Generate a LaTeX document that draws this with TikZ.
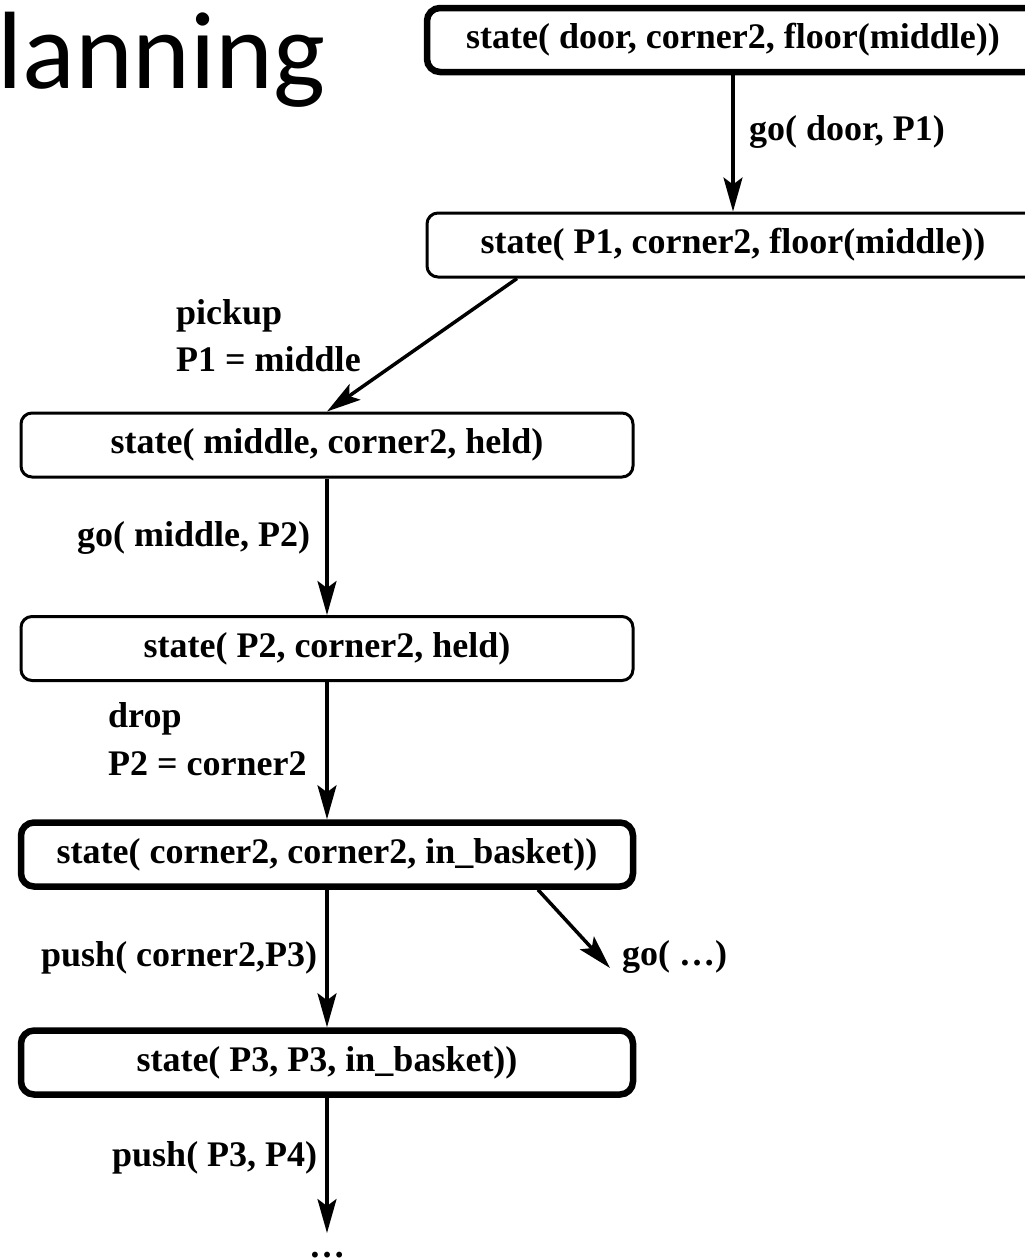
\documentclass[tikz,border=0pt]{standalone}
\usepackage{fontspec}
\setmainfont{Liberation Serif}
\newfontfamily\titlefont{Carlito}
\usetikzlibrary{arrows.meta}

\begin{document}
\begin{tikzpicture}[x=1pt,y=-1pt,
  every node/.style={font=\fontsize{36}{42}\selectfont\bfseries, inner sep=0pt},
  statebox/.style={draw, rounded corners=11pt, line width=3pt,
                   minimum width=612pt, minimum height=64pt},
  keybox/.style={statebox, line width=6.5pt, rounded corners=13pt},
  flow/.style={line width=3.5pt, -{Stealth[length=34pt,width=19pt,inset=7pt]}},
  lbl/.style={anchor=base west}
]
\useasboundingbox (0,0) rectangle (1025,1259);

% slide title
\node[anchor=base west, font=\titlefont\fontsize{110}{120}\selectfont] (title) at (-3,88) {lanning};

% search states
\node[keybox]   (b1) at (733,40)    {state( door, corner2, floor(middle))};
\node[statebox] (b2) at (733,245)   {state( P1, corner2, floor(middle))};
\node[statebox] (b3) at (327,445)   {state( middle, corner2, held)};
\node[statebox] (b4) at (327,648.5) {state( P2, corner2, held)};
\node[keybox]   (b5) at (327,854.5) {state( corner2, corner2, in\_basket))};
\node[keybox]   (b6) at (327,1062.5){state( P3, P3, in\_basket))};

% loose ends of the tree
\coordinate (goend) at (610,968);
\coordinate (cont) at (327,1233);

% transitions
\draw[flow] (b1.south) -- (b2.north);
\draw[flow] ([xshift=-216pt]b2.south) -- (b3.north);
\draw[flow] (b3.south) -- (b4.north);
\draw[flow] (b4.south) -- (b5.north);
\draw[flow] (b5.south) -- (b6.north);
\draw[flow] ([xshift=211pt]b5.south) -- (goend);
\draw[flow] (b6.south) -- (cont);

% operator labels
\node[lbl] (l1)  at (749,140)  {go( door, P1)};
\node[lbl] (l2a) at (176,324)  {pickup};
\node[lbl] (l2b) at (176,371)  {P1 = middle};
\node[lbl] (l3)  at (77,546)   {go( middle, P2)};
\node[lbl] (l4a) at (108,727)  {drop};
\node[lbl] (l4b) at (108,775)  {P2 = corner2};
\node[lbl] (l5)  at (41,966)   {push( corner2,P3)};
\node[lbl] (l6)  at (622,965)  {go( …)};
\node[lbl] (l7)  at (112,1166) {push( P3, P4)};
\node[anchor=base] (more) at (327,1257) {…};
\end{tikzpicture}
\end{document}
